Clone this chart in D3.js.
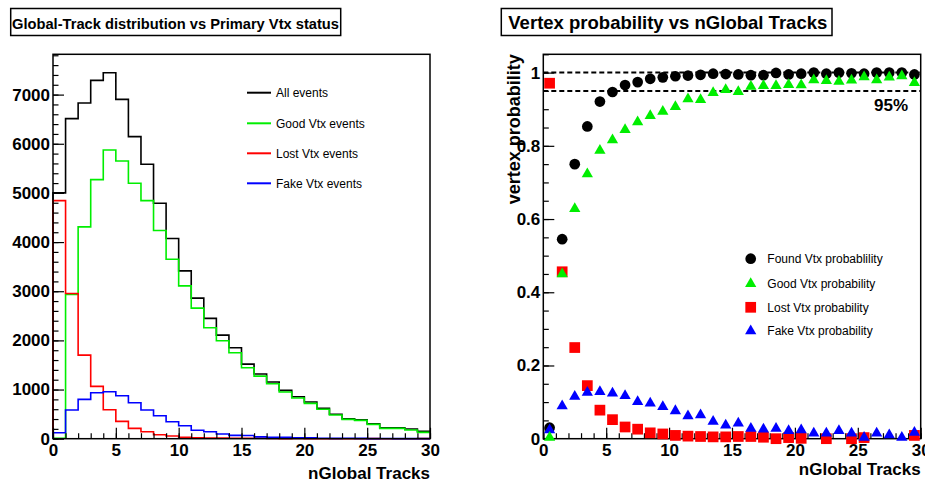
<!DOCTYPE html>
<html>
<head>
<meta charset="utf-8">
<script src="https://cdn.jsdelivr.net/npm/d3@7"></script>
<style>
    body { margin: 0; background: #fff; }
    svg { display: block; font-family: "Liberation Sans", Arial, sans-serif; }
</style>
</head>
<body>
<div id="container"></div>
<script>
// nGlobal track bins (lower edges, width 1)
var trackBins = [0, 1, 2, 3, 4, 5, 6, 7, 8, 9, 10, 11, 12, 13, 14, 15, 16, 17, 18, 19, 20, 21, 22, 23, 24, 25, 26, 27, 28, 29];

// left panel: event counts per bin
var allEvents = [5000, 6511, 6829, 7290, 7446, 6904, 6145, 5583, 4790, 4072, 3415, 2859, 2447, 2108, 1850, 1518, 1315, 1152, 983, 854, 746, 618, 496, 407, 387, 305, 224, 224, 197, 150];
var goodVtxEvents = [10, 2934, 4309, 5271, 5874, 5650, 5196, 4844, 4234, 3652, 3110, 2656, 2256, 1992, 1748, 1443, 1274, 1118, 949, 827, 719, 598, 482, 394, 373, 292, 211, 211, 177, 129];
var lostVtxEvents = [4844, 2954, 1700, 1064, 589, 352, 210, 142, 81, 54, 31, 20, 15, 11, 9, 9, 8, 5, 0, 3, 1, 0, 0, 0, 0, 1, 0, 0, 0, 1];
var fakeVtxEvents = [122, 583, 800, 935, 955, 874, 732, 583, 468, 346, 264, 171, 142, 96, 68, 64, 37, 30, 28, 19, 18, 9, 7, 9, 6, 1, 3, 2, 1, 2];

// right panel: probabilities at bin centres (null = no point drawn)
var foundProb = [0.030, 0.545, 0.750, 0.853, 0.921, 0.947, 0.966, 0.974, 0.983, 0.987, 0.990, 0.992, 0.994, 0.997, 0.996, 0.995, 0.993, 0.993, 0.999, 0.995, 0.997, 1.000, 0.997, 1.000, 0.998, 0.997, 1.000, 1.000, 1.000, 0.995];
var goodProb = [0.003, 0.450, 0.628, 0.723, 0.787, 0.816, 0.844, 0.865, 0.882, 0.894, 0.907, 0.928, 0.926, 0.945, 0.953, 0.948, 0.962, 0.964, 0.964, 0.967, 0.966, 0.980, 0.978, 0.976, 0.979, 0.988, 0.980, 0.987, 0.991, 0.972];
var lostProb = [0.971, 0.456, 0.249, 0.145, 0.078, 0.052, 0.032, 0.026, 0.016, 0.013, 0.009, 0.007, 0.006, 0.005, 0.005, 0.006, 0.006, 0.004, 0.000, 0.003, 0.001, null, 0.000, null, 0.000, 0.003, null, null, null, 0.009];
var fakeProb = [0.024, 0.089, 0.115, 0.126, 0.128, 0.124, 0.117, 0.101, 0.097, 0.087, 0.076, 0.062, 0.065, 0.047, 0.037, 0.042, 0.028, 0.026, 0.028, 0.022, 0.024, 0.015, 0.015, 0.022, 0.015, 0.003, 0.015, 0.010, 0.003, 0.017];

// reference lines on the probability plot
var refLines = [1.0, 0.95];

// tick labels
var trackTicks = [0, 5, 10, 15, 20, 25, 30];
var countTicks = [0, 1000, 2000, 3000, 4000, 5000, 6000, 7000];
var probTicks = [0, 0.2, 0.4, 0.6, 0.8, 1];

var svgWidth = 925;
var svgHeight = 483;
var fontFamily = '"Liberation Sans", Arial, sans-serif';

var svg = d3.select("#container")
    .append("svg")
    .attr("width", svgWidth)
    .attr("height", svgHeight);

var frameTop = 54.3;
var frameBottom = 438.7;

// Draws inward ticks, labels and the frame box for one pad
function drawFrame(g, xScale, yScale, yMajor, yMinor, yFormat, x0, x1) {
    var axisFont = function (sel) {
        sel.attr("font-size", 17)
            .attr("font-family", fontFamily)
            .attr("font-weight", "bold");
    };

    // minor ticks
    g.append("g")
        .attr("transform", `translate(0, ${frameBottom})`)
        .call(d3.axisBottom(xScale).tickValues(d3.range(0, 31, 1)).tickSize(-5.5).tickFormat(""))
        .call(s => s.select(".domain").remove())
        .selectAll("line").attr("stroke-width", 1.2);

    g.append("g")
        .attr("transform", `translate(${x0}, 0)`)
        .call(d3.axisLeft(yScale).tickValues(yMinor).tickSize(-5.5).tickFormat(""))
        .call(s => s.select(".domain").remove())
        .selectAll("line").attr("stroke-width", 1.2);

    // major ticks with labels
    var xAxis = g.append("g")
        .attr("transform", `translate(0, ${frameBottom})`)
        .call(d3.axisBottom(xScale).tickValues(trackTicks).tickSize(-11).tickPadding(5).tickFormat(d3.format("d")))
        .call(axisFont);
    xAxis.select(".domain").remove();
    xAxis.selectAll("line").attr("stroke-width", 1.2);

    var yAxis = g.append("g")
        .attr("transform", `translate(${x0}, 0)`)
        .call(d3.axisLeft(yScale).tickValues(yMajor).tickSize(-11).tickPadding(3).tickFormat(yFormat))
        .call(axisFont);
    yAxis.select(".domain").remove();
    yAxis.selectAll("line").attr("stroke-width", 1.2);

    // frame
    g.append("rect")
        .attr("x", x0)
        .attr("y", frameTop)
        .attr("width", x1 - x0)
        .attr("height", frameBottom - frameTop)
        .attr("fill", "none")
        .attr("stroke", "black")
        .attr("stroke-width", 1.5);
}

// Title box at top of each pad
function drawTitle(bx0, bx1, text, tx0, tx1, size) {
    svg.append("rect")
        .attr("x", bx0)
        .attr("y", 8.5)
        .attr("width", bx1 - bx0)
        .attr("height", 27)
        .attr("fill", "white")
        .attr("stroke", "black")
        .attr("stroke-width", 1.5);

    svg.append("text")
        .attr("x", tx0)
        .attr("y", 29)
        .attr("font-family", fontFamily)
        .attr("font-weight", "bold")
        .attr("font-size", size)
        .attr("textLength", tx1 - tx0)
        .attr("lengthAdjust", "spacingAndGlyphs")
        .text(text);
}

// ---------------- Left pad: histograms ----------------
var leftX0 = 53, leftX1 = 430;
var leftG = svg.append("g");

var xHist = d3.scaleLinear().domain([0, 30]).range([leftX0, leftX1]);
var yHist = d3.scaleLinear().domain([0, 7820]).range([frameBottom, frameTop]);

drawTitle(10.7, 340.7, "Global-Track distribution vs Primary Vtx status", 12, 339, 14.6);

var histLine = d3.line()
    .x(d => xHist(d[0]))
    .y(d => yHist(d[1]))
    .curve(d3.curveStepAfter);

function histPoints(values) {
    var pts = [[trackBins[0], 0]];
    trackBins.forEach((b, i) => pts.push([b, values[i]]));
    pts.push([trackBins[trackBins.length - 1] + 1, values[values.length - 1]]);
    return pts;
}

var histSeries = [
    { name: "All events", values: allEvents, color: "#000000" },
    { name: "Good Vtx events", values: goodVtxEvents, color: "#00ee00" },
    { name: "Lost Vtx events", values: lostVtxEvents, color: "#ff0000" },
    { name: "Fake Vtx events", values: fakeVtxEvents, color: "#0000ff" }
];

histSeries.forEach(s => {
    leftG.append("path")
        .attr("d", histLine(histPoints(s.values)))
        .attr("fill", "none")
        .attr("stroke", s.color)
        .attr("stroke-width", 1.6);
});

drawFrame(leftG, xHist, yHist, countTicks, d3.range(0, 7801, 200), d3.format("d"), leftX0, leftX1);

leftG.append("text")
    .attr("x", leftX1)
    .attr("y", 479)
    .attr("text-anchor", "end")
    .attr("font-family", fontFamily)
    .attr("font-weight", "bold")
    .attr("font-size", 17)
    .text("nGlobal Tracks");

// legend
var histLegendY = [92.7, 123.3, 153.3, 183.3];
histSeries.forEach((s, i) => {
    leftG.append("line")
        .attr("x1", 247).attr("x2", 271)
        .attr("y1", histLegendY[i]).attr("y2", histLegendY[i])
        .attr("stroke", s.color)
        .attr("stroke-width", 2);
    leftG.append("text")
        .attr("x", 276)
        .attr("y", histLegendY[i] + 4.3)
        .attr("font-family", fontFamily)
        .attr("font-size", 12)
        .text(s.name);
});

// ---------------- Right pad: probabilities ----------------
var rightX0 = 543.3, rightX1 = 920.7;
var rightG = svg.append("g");

var xProb = d3.scaleLinear().domain([0, 30]).range([rightX0, rightX1]);
var yProb = d3.scaleLinear().domain([0, 1.05]).range([frameBottom, frameTop]);

drawTitle(501.3, 832, "Vertex probability vs nGlobal Tracks", 508.3, 827.3, 18.4);

drawFrame(rightG, xProb, yProb, probTicks, d3.range(0, 1.051, 0.05), d => String(d), rightX0, rightX1);

// dashed reference lines
refLines.forEach(v => {
    rightG.append("line")
        .attr("x1", rightX0).attr("x2", rightX1)
        .attr("y1", yProb(v)).attr("y2", yProb(v))
        .attr("stroke", "black")
        .attr("stroke-width", 2)
        .attr("stroke-dasharray", "5,3");
});

rightG.append("text")
    .attr("x", 908)
    .attr("y", 111)
    .attr("text-anchor", "end")
    .attr("font-family", fontFamily)
    .attr("font-weight", "bold")
    .attr("font-size", 17)
    .text("95%");

var probSeries = [
    { name: "Found Vtx probablility", values: foundProb, color: "#000000", symbol: d3.symbolCircle, size: 90 },
    { name: "Lost Vtx probability", values: lostProb, color: "#ff0000", symbol: d3.symbolSquare, size: 115 },
    { name: "Fake Vtx probability", values: fakeProb, color: "#0000ff", symbol: d3.symbolTriangle, size: 55 },
    { name: "Good Vtx probability", values: goodProb, color: "#00ee00", symbol: d3.symbolTriangle, size: 55 }
];

probSeries.forEach(s => {
    var pts = trackBins.map((b, i) => ({ x: b + 0.5, y: s.values[i] }))
        .filter(d => d.y !== null);
    rightG.selectAll(null)
        .data(pts)
        .enter()
        .append("path")
        .attr("d", d3.symbol().type(s.symbol).size(s.size))
        .attr("transform", d => `translate(${xProb(d.x)}, ${yProb(d.y)})`)
        .attr("fill", s.color);
});

rightG.append("text")
    .attr("x", rightX1)
    .attr("y", 475)
    .attr("text-anchor", "end")
    .attr("font-family", fontFamily)
    .attr("font-weight", "bold")
    .attr("font-size", 17)
    .text("nGlobal Tracks");

rightG.append("text")
    .attr("transform", `translate(520, ${frameTop}) rotate(-90)`)
    .attr("text-anchor", "end")
    .attr("font-family", fontFamily)
    .attr("font-weight", "bold")
    .attr("font-size", 18)
    .text("vertex probability");

// legend (order as in reference)
var legendOrder = [0, 3, 1, 2];
var probLegendY = [258.7, 283.7, 307.3, 331];
legendOrder.forEach((k, i) => {
    var s = probSeries[k];
    rightG.append("path")
        .attr("d", d3.symbol().type(s.symbol).size(s.size))
        .attr("transform", `translate(750.7, ${probLegendY[i]})`)
        .attr("fill", s.color);
    rightG.append("text")
        .attr("x", 767.3)
        .attr("y", probLegendY[i] + 4.3)
        .attr("font-family", fontFamily)
        .attr("font-size", 12)
        .text(s.name);
});
</script>
</body>
</html>
